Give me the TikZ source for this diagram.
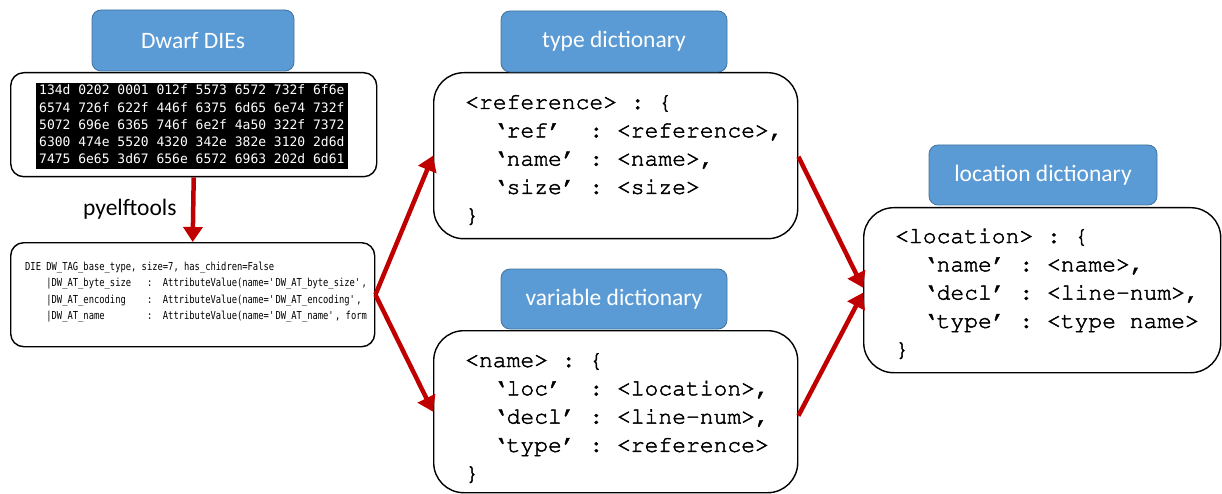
\documentclass[tikz,border=0pt]{standalone}
\usepackage[T1]{fontenc}
\usepackage{fontspec}
\setmainfont{Carlito}
\newfontfamily\hexfont{DejaVu Sans Mono}
\newfontfamily\diefont[FakeStretch=0.8]{DejaVu Sans Mono}
% Courier, slightly emboldened by stroking the glyph outlines
\newcommand{\codefont}{\fontencoding{T1}\fontfamily{pcr}\selectfont\frenchspacing
  \special{pdf:literal direct 2 Tr 0.45 w}}
\usetikzlibrary{arrows.meta}
\definecolor{titlefill}{HTML}{5B9BD5}
\definecolor{titleline}{HTML}{41719C}
\definecolor{flowred}{HTML}{C00000}
% n blank character cells in a monospaced line
\newcommand{\blanks}[1]{\hspace*{#1\fontcharwd\font`\ }}
\newcommand{\sq}{\textquotesingle}
\tikzset{
  panel/.style={draw=black, line width=1.4pt, fill=white, rounded corners=#1,
    anchor=north west, inner sep=0pt},
  titlebox/.style={draw=titleline, line width=0.8pt, fill=titlefill,
    rounded corners=9pt, text=white, font=\fontsize{23.5}{28}\selectfont,
    inner sep=0pt},
  code/.style={anchor=base west, inner sep=0pt, align=left,
    font=\codefont\fontsize{23}{28.3}\selectfont},
  flow/.style={draw=flowred, line width=4.5pt,
    -{Triangle[length=15pt, width=19pt]}},
}
\begin{document}
\begin{tikzpicture}[x=1pt, y=-1pt]
\useasboundingbox (0,0) rectangle (1222,494);

% white panels
\node[panel=13pt, minimum width=366pt, minimum height=104pt] (hex) at (10,72) {};
\node[panel=13pt, minimum width=364pt, minimum height=104pt] (die) at (10,242) {};
\node[panel=30pt, minimum width=364pt, minimum height=166pt] (type) at (433,72) {};
\node[panel=30pt, minimum width=364pt, minimum height=162pt] (var) at (433,330) {};
\node[panel=30pt, minimum width=357pt, minimum height=165pt] (loc) at (863,207) {};

% raw bytes (the base anchor of a multi-line node sits on its last line)
\node[fill=black, anchor=north west, inner sep=0pt, minimum width=312pt,
  minimum height=86pt] (dump) at (36,83) {};
\node[anchor=base west, inner sep=0pt, align=left, text=white,
  font=\hexfont\fontsize{13}{17.2}\selectfont] (bytes) at (39,163.8)
  {134d 0202 0001 012f 5573 6572 732f 6f6e\\
   6574 726f 622f 446f 6375 6d65 6e74 732f\\
   5072 696e 6365 746f 6e2f 4a50 322f 7372\\
   6300 474e 5520 4320 342e 382e 3120 2d6d\\
   7475 6e65 3d67 656e 6572 6963 202d 6d61};

% decoded entry, cut off at the right
\begin{scope}
  \clip (14,245) rectangle (366,343);
  \node[anchor=base west, inner sep=0pt, align=left,
    font=\diefont\fontsize{11}{16.6}\selectfont] (entry) at (25,319.8)
    {DIE DW\_TAG\_base\_type, size=7, has\_chidren=False\\
     \blanks{4}|DW\_AT\_byte\_size\blanks{3}:\blanks{2}AttributeValue(name=\sq DW\_AT\_byte\_size\sq,\\
     \blanks{4}|DW\_AT\_encoding\blanks{4}:\blanks{2}AttributeValue(name=\sq DW\_AT\_encoding\sq, f\\
     \blanks{4}|DW\_AT\_name\blanks{8}:\blanks{2}AttributeValue(name=\sq DW\_AT\_name\sq, form=};
\end{scope}

% dictionaries
\node[code] (typetext) at (465,222.2)
  {\textless reference\textgreater{} : \{\\
   \blanks{2}`ref'\blanks{2}: \textless reference\textgreater,\\
   \blanks{2}`name' : \textless name\textgreater,\\
   \blanks{2}`size' : \textless size\textgreater\\
   \}};
\node[code] (vartext) at (465,480.2)
  {\textless name\textgreater{} : \{\\
   \blanks{2}`loc'\blanks{2}: \textless location\textgreater,\\
   \blanks{2}`decl' : \textless line-num\textgreater,\\
   \blanks{2}`type' : \textless reference\textgreater\\
   \}};
\node[code] (loctext) at (895,356.2)
  {\textless location\textgreater{} : \{\\
   \blanks{2}`name' : \textless name\textgreater,\\
   \blanks{2}`decl' : \textless line-num\textgreater,\\
   \blanks{2}`type' : \textless type name\textgreater\\
   \}};

% titles
\node[titlebox, minimum width=202pt, minimum height=61pt] (tdwarf) at (193,40.5) {Dwarf DIEs};
\node[titlebox, minimum width=226pt, minimum height=61pt] (ttype) at (614,41.5) {type dictionary};
\node[titlebox, minimum width=226pt, minimum height=60pt] (tvar) at (614,299) {variable dictionary};
\node[titlebox, minimum width=228pt, minimum height=60pt] (tloc) at (1043,175) {location dictionary};

% data flow
\draw[flow] (hex.south) -- (die.north);
\node[anchor=base west, inner sep=0pt, font=\fontsize{23.5}{28}\selectfont] (tool) at (83,215) {pyelftools};
\draw[flow] (die.east) -- (type.west);
\draw[flow] (die.east) -- (var.west);
\draw[flow] ([yshift=-1pt]type.east) -- ([yshift=2.5pt]loc.west);
\draw[flow] ([yshift=-4pt]var.east) -- ([yshift=-2.5pt]loc.west);
\end{tikzpicture}
\end{document}
